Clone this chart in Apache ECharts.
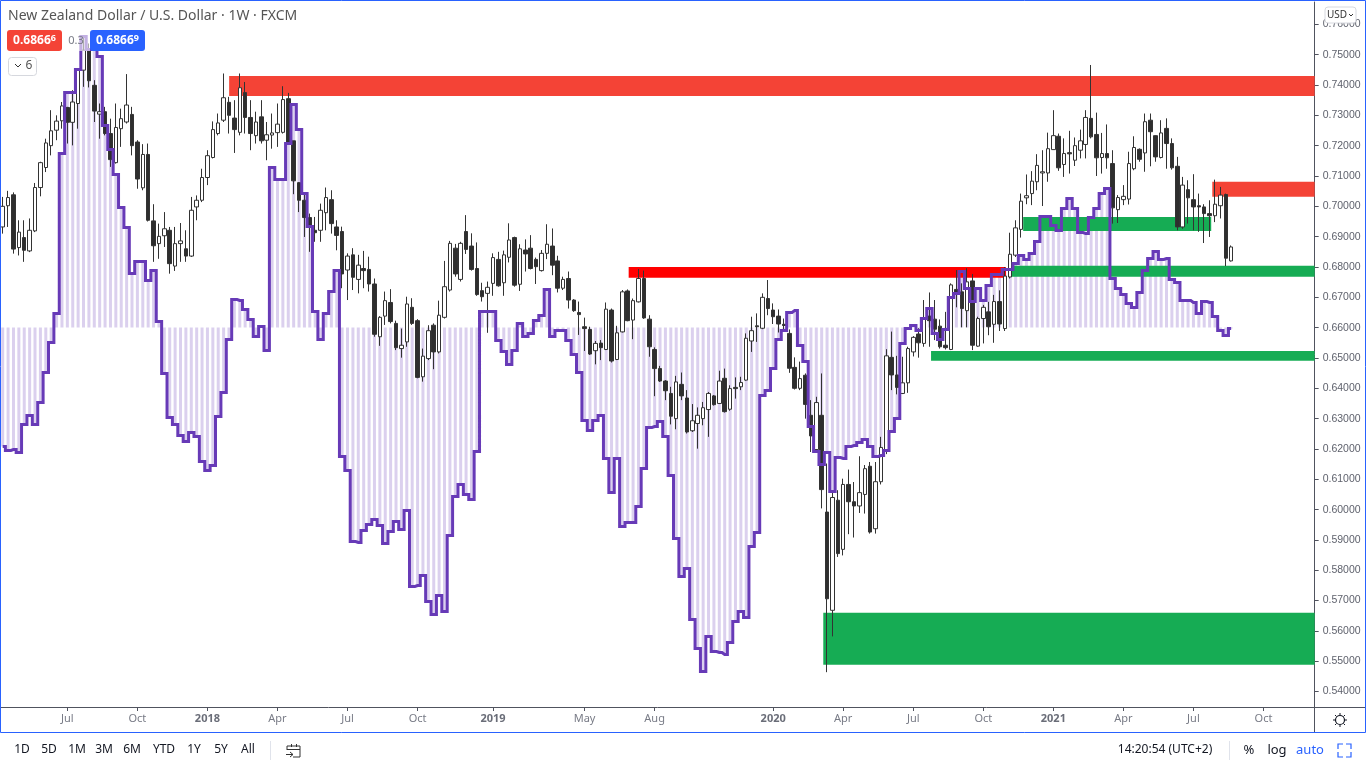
<!DOCTYPE html>
<html><head><meta charset="utf-8">
<style>html,body{margin:0;padding:0;background:#fff}#c{width:1366px;height:768px}</style>
<script src="https://cdn.jsdelivr.net/npm/echarts@6/dist/echarts.min.js"></script>
</head><body><div id="c"></div>
<script>
// Weekly NZD/USD candles, prices in 1/10000 USD
const firstWeek = '2017-04-10';
const weekCount = 244;
const opens = [6932,7002,7038,6864,6897,6853,6919,7062,7128,7200,7251,7282,7326,7277,7339,7449,7513,7399,7304,7312,7240,7144,7256,7278,7303,7212,7061,7171,6952,6877,6903,6921,6803,6877,6860,6836,6998,7020,7095,7161,7240,7284,7343,7291,7244,7375,7293,7233,7295,7218,7235,7243,7244,7355,7216,7078,7020,6963,6921,6921,6979,7022,6932,6917,6790,6840,6759,6795,6792,6744,6570,6638,6683,6614,6531,6553,6667,6623,6438,6498,6608,6520,6634,6724,6862,6759,6917,6869,6795,6722,6713,6746,6825,6748,6832,6897,6743,6856,6862,6825,6788,6845,6869,6820,6730,6762,6691,6650,6603,6594,6524,6549,6528,6658,6495,6586,6721,6625,6685,6762,6628,6528,6465,6424,6383,6300,6413,6368,6260,6284,6300,6330,6375,6350,6433,6331,6403,6405,6427,6556,6606,6598,6696,6658,6638,6611,6581,6469,6400,6443,6311,6198,6311,5992,5668,6031,5869,6083,6026,6012,6050,6143,5937,6092,6196,6502,6444,6383,6418,6520,6579,6548,6638,6628,6605,6542,6528,6726,6718,6656,6754,6539,6630,6652,6611,6686,6597,6767,6839,6924,7028,7042,7081,7110,7110,7187,7231,7138,7177,7152,7185,7204,7290,7237,7161,7174,7141,6989,7022,7024,7124,7188,7176,7284,7233,7161,7257,7207,7132,6932,7055,7022,7002,6998,6976,6969,7002,7039,6820];
const closes = [7000,7029,6859,6915,6855,6921,7062,7144,7209,7249,7281,7331,7277,7344,7449,7515,7414,7314,7312,7240,7154,7260,7289,7334,7200,7090,7171,6954,6870,6901,6926,6811,6877,6886,6836,6987,7020,7095,7167,7253,7275,7358,7300,7253,7391,7293,7240,7278,7216,7236,7242,7271,7352,7209,7084,7020,6963,6932,6913,6987,7029,6943,6904,6777,6836,6766,6806,6788,6744,6578,6634,6689,6620,6534,6542,6678,6614,6436,6506,6590,6520,6641,6735,6878,6777,6878,6858,6792,6709,6702,6733,6831,6738,6840,6889,6740,6860,6843,6795,6801,6845,6875,6806,6730,6759,6691,6656,6643,6597,6513,6548,6534,6661,6490,6583,6718,6623,6689,6762,6632,6537,6465,6424,6392,6308,6421,6375,6256,6293,6311,6336,6383,6346,6424,6323,6399,6399,6419,6565,6590,6603,6700,6663,6636,6612,6607,6466,6400,6432,6347,6243,6353,6066,5706,6040,5855,6083,6026,6012,6056,6135,5926,6092,6205,6507,6444,6403,6418,6531,6568,6550,6630,6623,6595,6537,6534,6741,6713,6663,6751,6542,6630,6667,6603,6686,6612,6770,6842,6929,7017,7035,7083,7135,7114,7190,7233,7127,7174,7173,7200,7216,7293,7229,7160,7174,7160,6995,7029,7033,7141,7194,7155,7279,7246,7163,7242,7207,7127,6932,7070,7028,6998,6998,6976,6969,7007,7037,6829,6866];
const highs = [7031,7051,7046,6954,6954,6960,7077,7147,7223,7317,7300,7344,7328,7383,7454,7564,7537,7416,7339,7328,7289,7339,7322,7436,7328,7218,7205,7207,7007,6943,6981,6932,6932,6945,6921,7031,7036,7124,7185,7280,7306,7438,7361,7350,7438,7410,7350,7312,7350,7278,7306,7339,7396,7374,7216,7080,7044,6976,6965,7009,7062,7053,6954,6933,6845,6862,6840,6853,6834,6762,6638,6719,6727,6623,6597,6702,6697,6628,6531,6608,6614,6689,6820,6886,6876,6883,6971,6911,6881,6748,6752,6845,6850,6854,6944,6900,6875,6891,6905,6831,6856,6941,6927,6837,6768,6785,6694,6686,6633,6603,6556,6559,6683,6663,6606,6724,6726,6696,6793,6788,6641,6535,6474,6427,6405,6441,6452,6394,6348,6337,6355,6388,6378,6458,6465,6410,6436,6438,6581,6636,6647,6713,6757,6680,6660,6630,6594,6502,6488,6449,6361,6372,6449,6152,6064,6064,6102,6132,6091,6176,6147,6157,6157,6240,6529,6587,6507,6504,6537,6572,6598,6691,6716,6691,6627,6652,6746,6790,6746,6796,6777,6636,6675,6685,6708,6723,6800,6913,6954,7042,7105,7116,7172,7185,7243,7317,7240,7224,7249,7227,7253,7317,7466,7309,7242,7270,7185,7037,7070,7180,7231,7191,7306,7306,7234,7284,7290,7224,7163,7097,7086,7106,7042,7007,7020,7088,7064,7042,6871];
const lows = [6910,6932,6844,6838,6817,6849,6915,7033,7113,7168,7218,7256,7207,7201,7256,7394,7392,7278,7223,7234,7130,7141,7196,7273,7168,7058,7053,6950,6817,6827,6866,6778,6787,6817,6817,6833,6954,7014,7070,7158,7234,7278,7240,7176,7234,7240,7185,7207,7207,7152,7190,7196,7240,7207,7040,6981,6899,6850,6883,6883,6921,6910,6855,6730,6691,6724,6713,6730,6719,6570,6540,6609,6614,6526,6501,6537,6609,6433,6422,6493,6463,6515,6630,6719,6768,6752,6843,6788,6705,6686,6583,6705,6735,6705,6815,6735,6721,6785,6792,6744,6785,6826,6773,6716,6724,6663,6652,6576,6523,6510,6479,6493,6526,6485,6493,6584,6621,6562,6683,6629,6504,6374,6421,6361,6281,6265,6361,6251,6256,6201,6278,6240,6343,6348,6320,6326,6366,6394,6425,6520,6553,6595,6641,6612,6584,6587,6451,6396,6394,6300,6190,6196,6004,5464,5582,5844,5849,5919,5908,5989,5987,5921,5921,6083,6183,6394,6380,6381,6385,6505,6501,6537,6537,6559,6531,6528,6526,6667,6601,6601,6526,6537,6548,6575,6550,6589,6589,6762,6833,6897,7007,7004,7053,7001,7081,7187,7117,7097,7108,7133,7158,7158,7224,7100,7108,7124,6943,6945,7004,7006,7119,7147,7114,7132,7147,7158,7124,7121,6921,6926,6943,6921,6916,6879,6899,6948,6960,6803,6818];
// Oscillator overlay (own hidden scale, zero line at the hatched baseline)
const oscillator = [-1.19,-1.23,-1.22,-1.25,-0.97,-0.88,-0.97,-0.75,-0.45,-0.15,0.14,1.74,2.35,2.35,2.58,2.91,2.78,2.78,2.71,2.02,1.78,1.53,1.20,1.00,0.54,0.66,0.66,0.47,0.57,0.06,-0.46,-0.90,-0.97,-1.08,-1.14,-1.05,-1.09,-1.34,-1.43,-1.38,-0.89,-0.65,-0.12,0.28,0.27,0.18,0.08,-0.09,0.01,-0.23,1.60,1.48,1.48,1.84,2.23,1.98,1.34,1.01,0.16,-0.12,0.14,0.36,0.57,-1.29,-1.43,-2.14,-2.15,-2.03,-1.97,-1.92,-1.98,-2.16,-2.04,-1.94,-2.02,-1.83,-2.59,-2.58,-2.48,-2.74,-2.87,-2.68,-2.84,-2.08,-1.69,-1.57,-1.67,-1.72,-1.24,0.16,0.16,0.16,-0.13,-0.24,-0.37,-0.23,0.04,-0.09,-0.06,0.07,0.12,0.38,-0.09,-0.03,-0.03,-0.13,-0.27,-0.45,-0.93,-1.03,-0.93,-0.88,-1.31,-1.65,-1.31,-1.99,-1.95,-1.95,-1.79,-1.41,-1.00,-0.99,-0.94,-1.09,-1.48,-2.11,-2.49,-2.41,-2.92,-3.21,-3.44,-3.09,-3.24,-3.25,-3.27,-3.15,-2.94,-2.84,-2.90,-2.19,-2.05,-0.68,-0.63,-0.41,-0.12,-0.03,0.15,0.17,-0.18,-0.34,-0.99,-1.24,-1.37,-1.25,-1.64,-1.30,-1.31,-1.19,-1.18,-1.15,-1.12,-1.19,-1.29,-1.28,-1.23,-1.04,-0.91,-0.16,-0.01,0.02,-0.03,0.09,0.19,-0.06,-0.12,-0.02,0.30,0.34,0.56,0.39,0.26,0.39,0.27,0.42,0.53,0.53,0.58,0.58,0.64,0.72,0.68,0.74,0.86,1.11,1.11,1.02,0.97,1.19,1.29,1.19,0.95,0.94,1.10,1.19,1.34,1.39,0.49,0.39,0.33,0.24,0.20,0.35,0.57,0.69,0.76,0.68,0.69,0.48,0.45,0.27,0.27,0.25,0.14,0.26,0.25,0.11,-0.03,-0.08,-0.01];
// Supply / demand zones: from week, to week, upper price, lower price, colour name
const zones = [
  [42.03,243.5,0.74297,0.73637,'soft'],
  [116.18,186.2,0.68000,0.67647,'red'],
  [187.3,243.5,0.68042,0.67679,'green'],
  [189.4,224.3,0.69648,0.69186,'green'],
  [224.5,243.5,0.70812,0.70317,'soft'],
  [172.3,243.5,0.65230,0.64910,'green'],
  [152.3,243.5,0.56600,0.54887,'green']
];
const zoneColors = {soft:'#f44336', red:'#ff0000', green:'#16ac54'};
const priceTicks = [0.54,0.55,0.56,0.57,0.58,0.59,0.60,0.61,0.62,0.63,0.64,0.65,0.66,0.67,0.68,0.69,0.70,0.71,0.72,0.73,0.74,0.75,0.76];
const timeTicks = [12,25,38,51,64,77,91,108,121,143,156,169,182,195,208,221,234];
const timeLabels = ['Jul','Oct','2018','Apr','Jul','Oct','2019','May','Aug','2020','Apr','Jul','Oct','2021','Apr','Jul','Oct'];
const rangeButtons = ['1D','5D','1M','3M','6M','YTD','1Y','5Y','All'];
const rangeX = [22,49,77,104,132,164,194,221,248];

const FONT = '"Noto Sans", sans-serif';
const AXISFONT = '"Liberation Sans", sans-serif';
const categories = [];
for (let i = 0; i < weekCount; i++) {
  const d = new Date(Date.parse(firstWeek + 'T00:00:00Z') + i * 7 * 864e5);
  categories.push(d.toISOString().slice(0, 10));
}
const tickDates = timeTicks.map(i => categories[i]);
const labelOf = {};
tickDates.forEach((d, i) => { labelOf[d] = timeLabels[i]; });
const candles = opens.map((o, i) => [o / 1e4, closes[i] / 1e4, lows[i] / 1e4, highs[i] / 1e4]);

function txt(x, y, s, o) {
  return {type:'text', z:50, x, y, style:Object.assign({text:s, font:'12px ' + FONT, fill:'#131722', align:'center', verticalAlign:'middle'}, o || {})};
}
function line(x1, y1, x2, y2, stroke) {
  return {type:'line', z:49, shape:{x1, y1, x2, y2}, style:{stroke:stroke || '#50535e', lineWidth:1}};
}
function badge(x, w, color, head, tail) {
  return [
    {type:'rect', z:50, shape:{x, y:30, width:w, height:21, r:3}, style:{fill:color}},
    {type:'text', z:51, x:x + w / 2, y:40.5, style:{text:'{a|' + head + '}{b|' + tail + '}', align:'center', verticalAlign:'middle',
      rich:{a:{font:'bold 12px ' + FONT, fill:'#fff'}, b:{font:'bold 9px ' + FONT, fill:'#fff', verticalAlign:'top', padding:[0,0,4,0]}}}}
  ];
}
const graphics = [
  line(1314.5, 707.5, 1366, 707.5), line(1314.5, 707, 1314.5, 733),
  {type:'rect', z:60, shape:{x:0.5, y:0.5, width:1365, height:732}, style:{fill:'none', stroke:'#2962ff', lineWidth:1}},
  txt(8, 16, 'New Zealand Dollar / U.S. Dollar · 1W · FXCM', {align:'left', font:'14px ' + FONT, fill:'#555'}),
  {type:'rect', z:49, shape:{x:62, y:30, width:28, height:21}, style:{fill:'rgba(255,255,255,0.6)'}},
  ...badge(7, 55, '#f44336', '0.6866', '6'),
  txt(76, 41, '0.3', {font:'11px ' + FONT, fill:'#787b86'}),
  ...badge(90, 55, '#2962ff', '0.6866', '9'),
  {type:'rect', z:50, shape:{x:8.5, y:57.5, width:28, height:18, r:3}, style:{fill:'#fff', stroke:'#d6d8de', lineWidth:1}},
  {type:'polyline', z:51, shape:{points:[[15,64],[18,67],[21,64]]}, style:{stroke:'#333', fill:'none', lineWidth:1}},
  txt(29, 66, '6', {font:'12px ' + FONT, fill:'#555'}),
  {type:'rect', z:50, shape:{x:1325, y:7, width:31, height:16, r:3}, style:{fill:'#fff', stroke:'#d6d8de', lineWidth:1}},
  txt(1337, 15, 'USD', {font:'10px ' + FONT, fill:'#333'}),
  {type:'polyline', z:51, shape:{points:[[1349,14],[1351,16],[1353,14]]}, style:{stroke:'#333', fill:'none', lineWidth:1}},
  {type:'circle', z:50, shape:{cx:1340, cy:720, r:4.5}, style:{fill:'#fff', stroke:'#131722', lineWidth:1.2}},
  ...[[1340,713,1340,715],[1340,725,1340,727],[1333,720,1335,720],[1345,720,1347,720],[1335,715,1336.5,716.5],[1343.5,723.5,1345,725],[1345,715,1343.5,716.5],[1336.5,723.5,1335,725]].map(p => line(p[0],p[1],p[2],p[3],'#131722')),
  ...rangeButtons.map((b, i) => txt(rangeX[i], 750, b)),
  line(270.5, 741, 270.5, 760, '#e0e3eb'),
  {type:'polyline', z:50, shape:{points:[[287,750],[287,746],[300,746],[300,757],[293,757]]}, style:{fill:'none', stroke:'#333', lineWidth:1}},
  line(287, 749.5, 300, 749.5, '#333'), line(291.5, 744, 291.5, 747, '#333'), line(296.5, 744, 296.5, 747, '#333'),
  {type:'polyline', z:50, shape:{points:[[286,754.5],[293,754.5]]}, style:{fill:'none', stroke:'#333', lineWidth:1}},
  {type:'polyline', z:50, shape:{points:[[290,752],[293,754.5],[290,757]]}, style:{fill:'none', stroke:'#333', lineWidth:1}},
  txt(1165, 750, '14:20:54 (UTC+2)'),
  line(1229.5, 741, 1229.5, 760, '#e0e3eb'),
  txt(1249, 750, '%', {font:'13px ' + FONT}),
  txt(1277, 750, 'log', {font:'13px ' + FONT}),
  txt(1310, 750, 'auto', {font:'13px ' + FONT, fill:'#2962ff'}),
  {type:'polyline', z:50, shape:{points:[[1338,749],[1338,744],[1343,744]]}, style:{stroke:'#2962ff', fill:'none', lineWidth:1.2}},
  {type:'polyline', z:50, shape:{points:[[1346,744],[1351,744],[1351,749]]}, style:{stroke:'#2962ff', fill:'none', lineWidth:1.2}},
  {type:'polyline', z:50, shape:{points:[[1338,752],[1338,757],[1343,757]]}, style:{stroke:'#2962ff', fill:'none', lineWidth:1.2}},
  {type:'polyline', z:50, shape:{points:[[1346,757],[1351,757],[1351,752]]}, style:{stroke:'#2962ff', fill:'none', lineWidth:1.2}}
];

const chart = echarts.init(document.getElementById('c'), null, {renderer:'canvas'});
chart.setOption({
  animation:false,
  backgroundColor:'#fff',
  graphic:graphics,
  grid:{left:-1.43, top:2, width:1316.1, height:705, containLabel:false},
  xAxis:{
    type:'category', data:categories, boundaryGap:true,
    axisLine:{show:true, onZero:false, lineStyle:{color:'#50535e', width:1}},
    axisTick:{show:true, alignWithLabel:true, length:4, customValues:tickDates, lineStyle:{color:'#50535e'}},
    axisLabel:{show:true, customValues:tickDates, margin:6, color:'#787b86', fontFamily:FONT, fontSize:11,
      formatter:v => { const s = labelOf[v]; return /^20/.test(s) ? '{y|' + s + '}' : s; },
      rich:{y:{fontWeight:'bold', color:'#6a6d78', fontFamily:FONT, fontSize:11}}},
    splitLine:{show:false}
  },
  yAxis:[
    {type:'value', position:'right', min:0.53492, max:0.76737, scale:true,
      axisLine:{show:true, lineStyle:{color:'#50535e', width:1}},
      axisTick:{show:true, length:4, customValues:priceTicks, lineStyle:{color:'#50535e'}},
      axisLabel:{show:true, customValues:priceTicks, margin:8, color:'#5f626d', fontFamily:AXISFONT, fontSize:10.5, formatter:v => v.toFixed(5), hideOverlap:false},
      splitLine:{show:false}},
    {type:'value', show:false, min:-3.795, max:3.255, splitLine:{show:false}}
  ],
  series:[
    {type:'bar', name:'hist', yAxisIndex:1, data:oscillator, barWidth:3, z:1, silent:true,
      itemStyle:{color:'rgba(103,58,183,0.24)'}},
    {type:'custom', name:'zones', z:2, silent:true, data:zones.map((z, i) => [i]), clip:false,
      renderItem(params, api){
        const z = zones[params.dataIndex];
        const band = api.size([1, 0])[0];
        const x0 = api.coord([0, z[2]]);
        const y1 = api.coord([0, z[3]])[1];
        return {type:'rect', shape:{x:x0[0] + z[0] * band, y:x0[1], width:(z[1] - z[0]) * band, height:y1 - x0[1]},
          style:{fill:zoneColors[z[4]]}};
      }},
    {type:'candlestick', name:'NZD/USD', data:candles, barWidth:4, z:3, silent:true,
      itemStyle:{color:'#ffffff', color0:'#2e2e2e', borderColor:'#333333', borderColor0:'#333333', borderWidth:1}},
    {type:'line', name:'oscillator', yAxisIndex:1, data:oscillator, step:'middle', z:4, silent:true, showSymbol:false, symbol:'none',
      lineStyle:{color:'#673ab7', width:3, join:'miter'}}
  ]
});
</script></body></html>
